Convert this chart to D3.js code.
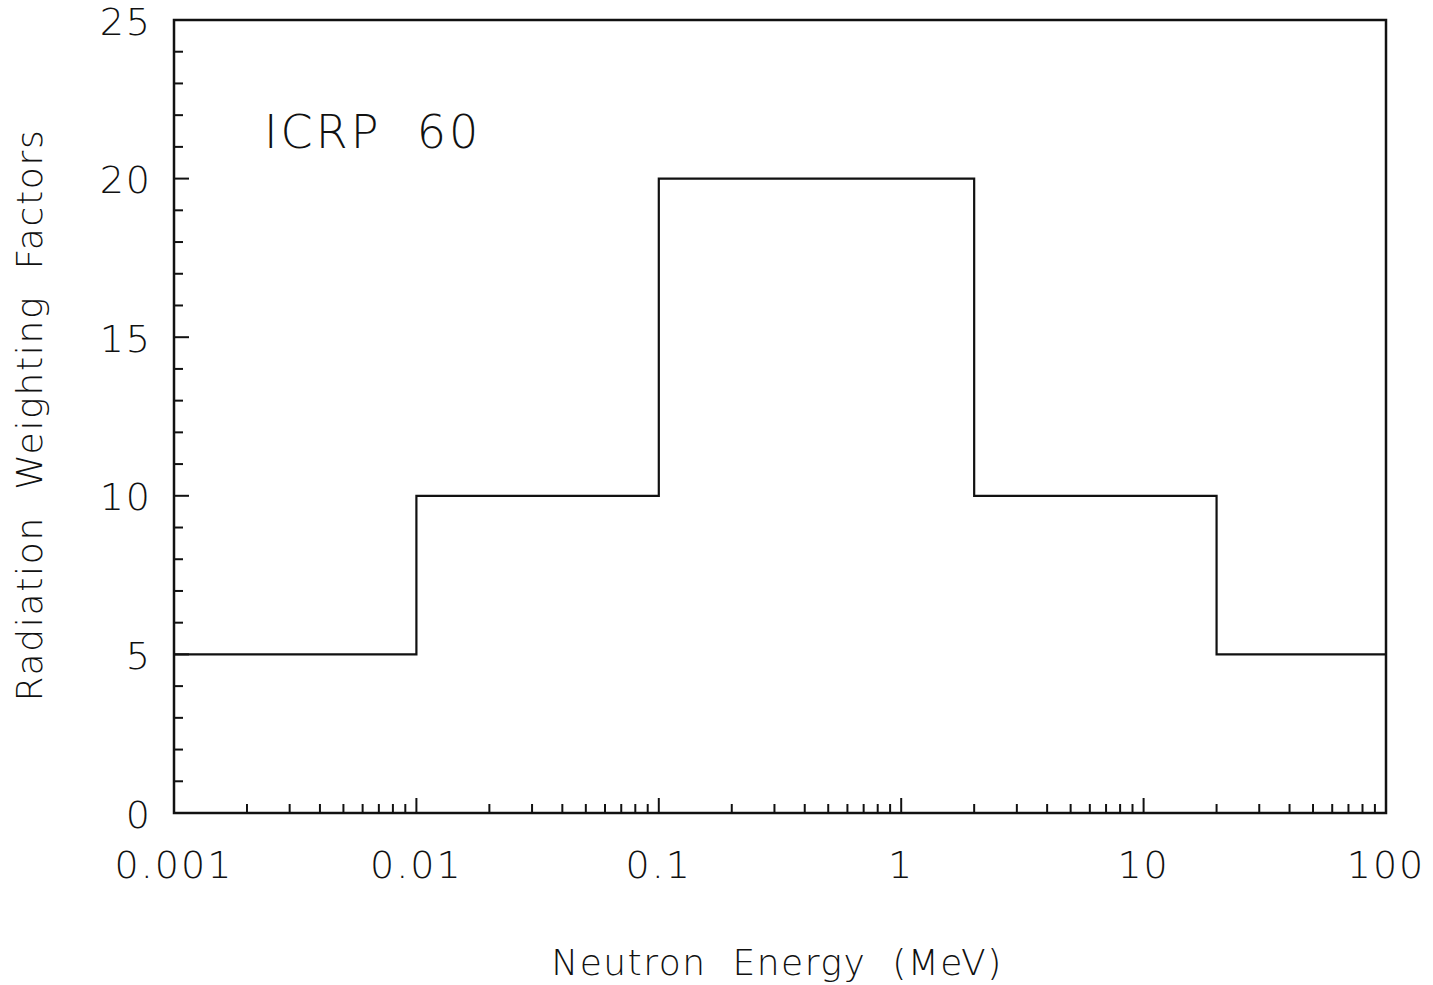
<!DOCTYPE html>
<html>
<head>
<meta charset="utf-8">
<script src="https://cdn.jsdelivr.net/npm/d3@7"></script>
<style>
  html, body { margin: 0; padding: 0; background: #fff; }
  svg text { font-family: "DejaVu Sans", "Open Sans", sans-serif; font-weight: 200; fill: #111; }
</style>
</head>
<body>
<svg id="chart" width="1433" height="985"></svg>
<script>
// ICRP 60 neutron radiation weighting factors, energy bins in MeV
const binEdges = [0.001, 0.01, 0.1, 2, 20, 100];
const weightFactors = [5, 10, 20, 10, 5];
const xTickValues = [0.001, 0.01, 0.1, 1, 10, 100];
const xTickLabels = ["0.001", "0.01", "0.1", "1", "10", "100"];
const yTickValues = [0, 5, 10, 15, 20, 25];

const svg = d3.select("#chart");
const plotLeft = 174, plotRight = 1386, plotTop = 20, plotBottom = 813;

const x = d3.scaleLog().domain([0.001, 100]).range([plotLeft, plotRight]);
const y = d3.scaleLinear().domain([0, 25]).range([plotBottom, plotTop]);

// frame
svg.append("rect")
  .attr("x", plotLeft).attr("y", plotTop)
  .attr("width", plotRight - plotLeft).attr("height", plotBottom - plotTop)
  .attr("fill", "none").attr("stroke", "#111").attr("stroke-width", 2.5);

// y ticks: minor every unit, major every 5, drawn inward
const yMinor = d3.range(0, 26);
svg.append("g").selectAll("line").data(yMinor).join("line")
  .attr("x1", plotLeft).attr("x2", d => plotLeft + (d % 5 === 0 ? 15 : 9))
  .attr("y1", d => y(d)).attr("y2", d => y(d))
  .attr("stroke", "#111").attr("stroke-width", 2);

svg.append("g").selectAll("text").data(yTickValues).join("text")
  .attr("x", 152).attr("y", d => y(d) + 1)
  .attr("dy", "0.36em")
  .attr("text-anchor", "end")
  .attr("font-size", 38)
  .attr("letter-spacing", 2)
  .text(d => d);

// x ticks: decades major, 2..9 minor, drawn inward
const xMinor = [];
for (let e = -3; e < 2; e++) {
  for (let m = 2; m <= 9; m++) xMinor.push(m * Math.pow(10, e));
}
svg.append("g").selectAll("line").data(xMinor).join("line")
  .attr("x1", d => x(d)).attr("x2", d => x(d))
  .attr("y1", plotBottom).attr("y2", plotBottom - 9)
  .attr("stroke", "#111").attr("stroke-width", 2);
svg.append("g").selectAll("line").data(xTickValues).join("line")
  .attr("x1", d => x(d)).attr("x2", d => x(d))
  .attr("y1", plotBottom).attr("y2", plotBottom - 15)
  .attr("stroke", "#111").attr("stroke-width", 2);

svg.append("g").selectAll("text").data(xTickValues).join("text")
  .attr("x", d => x(d)).attr("y", 864)
  .attr("dy", "0.36em")
  .attr("text-anchor", "middle")
  .attr("font-size", 38)
  .attr("letter-spacing", 2)
  .text((d, i) => xTickLabels[i]);

// step curve
const stepPoints = [];
weightFactors.forEach((w, i) => {
  stepPoints.push([binEdges[i], w]);
  stepPoints.push([binEdges[i + 1], w]);
});
const line = d3.line().x(d => x(d[0])).y(d => y(d[1]));
svg.append("path")
  .attr("d", line(stepPoints))
  .attr("fill", "none").attr("stroke", "#111").attr("stroke-width", 2.2);

// labels
svg.append("text")
  .attr("x", 264).attr("y", 148)
  .attr("font-size", 46)
  .attr("letter-spacing", 3)
  .text("ICRP\u00a0\u00a060");

svg.append("text")
  .attr("x", 777).attr("y", 975)
  .attr("text-anchor", "middle")
  .attr("font-size", 36)
  .attr("letter-spacing", 1.5)
  .text("Neutron\u00a0\u00a0Energy\u00a0\u00a0(MeV)");

svg.append("text")
  .attr("transform", "translate(42,415) rotate(-90)")
  .attr("text-anchor", "middle")
  .attr("font-size", 36)
  .attr("letter-spacing", 1.7)
  .text("Radiation\u00a0\u00a0Weighting\u00a0\u00a0Factors");
</script>
</body>
</html>
